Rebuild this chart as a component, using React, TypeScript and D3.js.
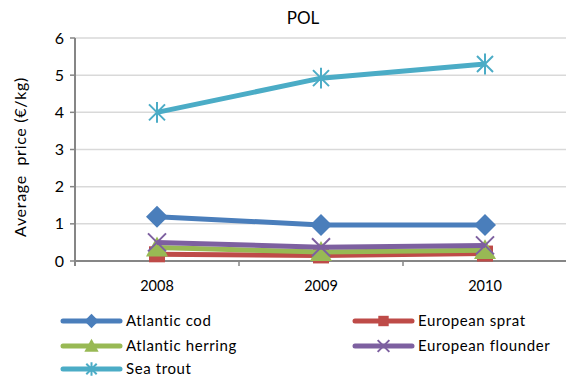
import React from "react";
import * as d3 from "d3";

const years = ["2008", "2009", "2010"];
const yTicks = [0, 1, 2, 3, 4, 5, 6];
const seriesNames = ["Atlantic cod", "European sprat", "Atlantic herring", "European flounder", "Sea trout"];
const atlanticCod = [1.19, 0.97, 0.97];
const europeanSprat = [0.18, 0.15, 0.2];
const atlanticHerring = [0.36, 0.24, 0.29];
const europeanFlounder = [0.5, 0.37, 0.42];
const seaTrout = [4.0, 4.92, 5.3];
const colors = ["#4A7EBB", "#BE4B48", "#98B954", "#7D60A0", "#4BACC6"];
const markers = ["diamond", "square", "triangle", "x", "star"];

const W = 566, H = 386;
const left = 75, right = 567, top = 38, bottom = 261;
const font = "Lato, 'Open Sans', sans-serif";

function Marker({ type, x, y, color, s = 1 }: any) {
  if (type === "diamond") {
    const r = 11 * s;
    return <path d={`M${x},${y - r}L${x + r},${y}L${x},${y + r}L${x - r},${y}Z`} fill={color} />;
  }
  if (type === "square") {
    const r = 8 * s;
    return <rect x={x - r} y={y - r} width={2 * r} height={2 * r} fill={color} />;
  }
  if (type === "triangle") {
    const r = 11 * s;
    return <path d={`M${x},${y - r}L${x + r},${y + r * 0.8}L${x - r},${y + r * 0.8}Z`} fill={color} />;
  }
  if (type === "x") {
    const r = 9 * s;
    return <path d={`M${x - r},${y - r}L${x + r},${y + r}M${x - r},${y + r}L${x + r},${y - r}`} stroke={color} strokeWidth={2} />;
  }
  const r = 8 * s;
  return (
    <path
      d={`M${x - r},${y - r}L${x + r},${y + r}M${x - r},${y + r}L${x + r},${y - r}M${x},${y - r * 1.3}L${x},${y + r * 1.3}`}
      stroke={color}
      strokeWidth={2}
    />
  );
}

export default function App() {
  const x = d3.scaleBand<string>().domain(years).range([left, right]);
  const y = d3.scaleLinear().domain([0, 6]).range([bottom, top]);
  const data = [atlanticCod, europeanSprat, atlanticHerring, europeanFlounder, seaTrout];
  const line = d3
    .line<number>()
    .x((_, i) => (x(years[i]) as number) + x.bandwidth() / 2)
    .y((d) => y(d));
  const drawOrder = [0, 1, 2, 3, 4];
  const legendPos = [
    [63, 321],
    [355, 321],
    [63, 346],
    [355, 346],
    [63, 369],
  ];
  const cx = (i: number) => (x(years[i]) as number) + x.bandwidth() / 2;
  return (
    <svg width={W} height={H} style={{ position: "absolute", left: 0, top: 0 }} fontFamily={font}>
      <rect width={W} height={H} fill="white" />
      <text x={303} y={24} textAnchor="middle" fontSize={17}>POL</text>
      {yTicks.map((t) => (
        <g key={t}>
          {t > 0 && <line x1={left} x2={right} y1={y(t)} y2={y(t)} stroke="#D9D9D9" strokeWidth={1.5} />}
          <line x1={left - 5} x2={left} y1={y(t)} y2={y(t)} stroke="#868686" strokeWidth={1.5} />
          <text x={left - 11} y={y(t) + 5.5} textAnchor="end" fontSize={16}>{t}</text>
        </g>
      ))}
      <line x1={left} x2={left} y1={top} y2={bottom + 5} stroke="#868686" strokeWidth={2} />
      <line x1={left} x2={right} y1={bottom} y2={bottom} stroke="#868686" strokeWidth={2} />
      {years.map((yr, i) => (
        <g key={yr}>
          <line x1={(x(yr) as number) + x.bandwidth()} x2={(x(yr) as number) + x.bandwidth()} y1={bottom} y2={bottom + 5} stroke="#868686" strokeWidth={1.5} />
          <text x={cx(i)} y={291} textAnchor="middle" fontSize={14.5}>{yr}</text>
        </g>
      ))}
      <text transform={`translate(26,157) rotate(-90)`} textAnchor="middle" fontSize={16} letterSpacing={0.7} xmlSpace="preserve" style={{ whiteSpace: "pre" }}>
        Average  price (€/kg)
      </text>
      {drawOrder.map((si) => (
        <g key={si}>
          <path d={line(data[si]) as string} fill="none" stroke={colors[si]} strokeWidth={5} strokeLinejoin="round" />
          {data[si].map((v, i) => (
            <Marker key={i} type={markers[si]} x={cx(i)} y={y(v)} color={colors[si]} />
          ))}
        </g>
      ))}
      {seriesNames.map((n, si) => {
        const [lx, ly] = legendPos[si];
        return (
          <g key={n}>
            <line x1={lx} x2={lx + 57} y1={ly} y2={ly} stroke={colors[si]} strokeWidth={5} strokeLinecap="round" />
            <Marker type={markers[si]} x={lx + 28.5} y={ly} color={colors[si]} s={0.65} />
            <text x={lx + 63} y={ly + 5} fontSize={15} letterSpacing={0.6}>{n}</text>
          </g>
        );
      })}
    </svg>
  );
}
